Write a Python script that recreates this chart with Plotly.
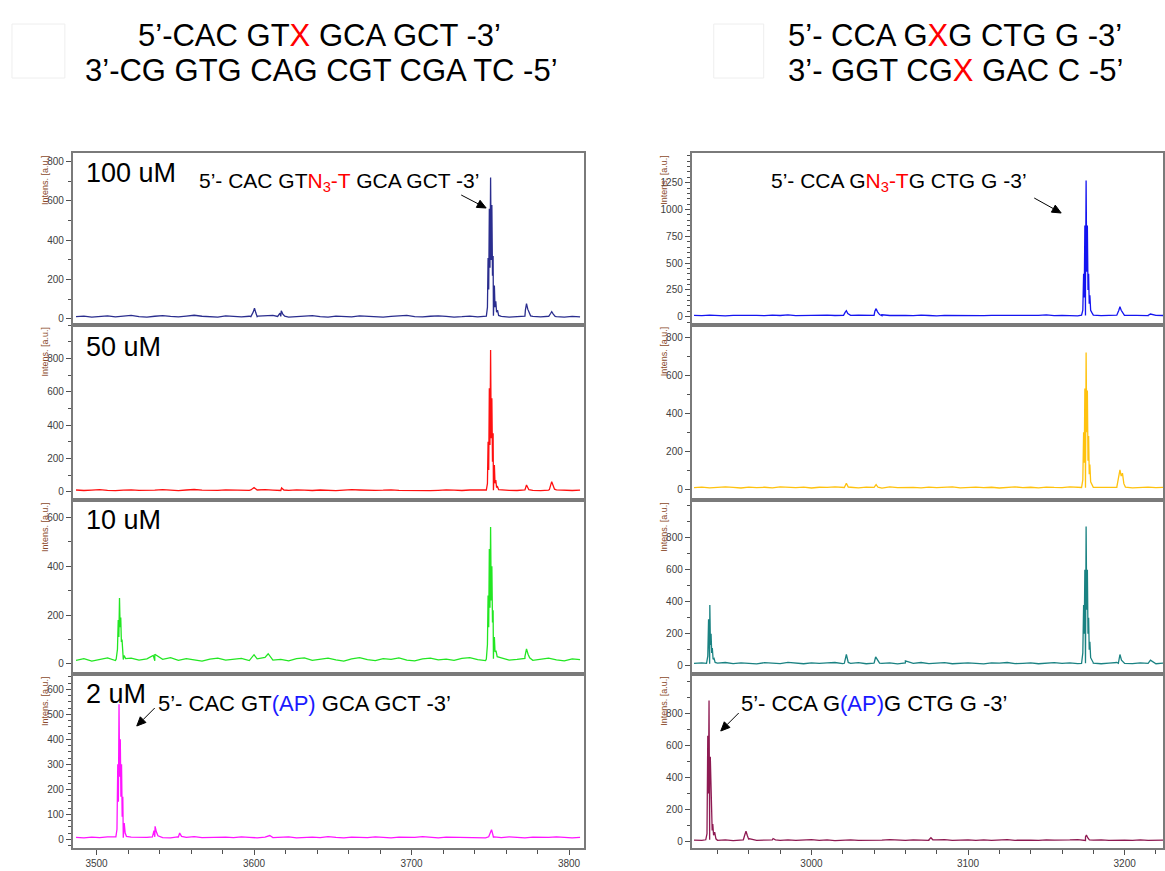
import math
import plotly.graph_objects as go

W, H = 1165, 871

# ---------------- data ----------------
LEFT_MZ = [3487, 3492, 3497, 3502, 3507, 3512, 3517, 3522, 3527, 3532,
           3537, 3542, 3547, 3552, 3557, 3562, 3567, 3572, 3577, 3582,
           3587, 3592, 3597, 3602, 3607, 3612, 3617, 3622, 3627, 3632,
           3637, 3642, 3647, 3652, 3657, 3662, 3667, 3672, 3677, 3682,
           3687, 3692, 3697, 3702, 3707, 3712, 3717, 3722, 3727, 3732,
           3737, 3742, 3747, 3752, 3757, 3762, 3767, 3772, 3777, 3782,
           3787, 3792, 3797, 3802, 3807]
RIGHT_MZ = [2925, 2930, 2935, 2940, 2945, 2950, 2955, 2960, 2965, 2970,
            2975, 2980, 2985, 2990, 2995, 3000, 3005, 3010, 3015, 3020,
            3025, 3030, 3035, 3040, 3045, 3050, 3055, 3060, 3065, 3070,
            3075, 3080, 3085, 3090, 3095, 3100, 3105, 3110, 3115, 3120,
            3125, 3130, 3135, 3140, 3145, 3150, 3155, 3160, 3165, 3170,
            3175, 3180, 3185, 3190, 3195, 3200, 3205, 3210, 3215, 3220,
            3225]

# baselines
L100_BASE = [12, 15, 10, 13, 16, 11, 14, 18, 12, 10,
             14, 17, 13, 11, 15, 19, 14, 12, 10, 16,
             13, 11, 14, 12, 15, 18, 13, 10, 12, 14,
             17, 12, 10, 15, 13, 11, 16, 14, 12, 10,
             13, 15, 18, 12, 11, 14, 16, 13, 10, 12,
             15, 11, 14, 17, 13, 10, 12, 15, 13, 11,
             14, 12, 10, 13, 11]
L50_BASE = [10, 7, 9, 12, 8, 6, 9, 11, 8, 7,
            9, 12, 8, 6, 10, 13, 9, 7, 8, 11,
            9, 6, 8, 10, 12, 9, 7, 8, 11, 9,
            7, 10, 8, 6, 9, 12, 10, 7, 8, 9,
            11, 8, 7, 10, 9, 6, 8, 11, 9, 7,
            10, 8, 6, 9, 12, 8, 7, 10, 8, 6,
            9, 11, 8, 7, 9]
L10_BASE = [15, 22, 12, 20, 25, 14, 18, 24, 16, 21,
            13, 19, 26, 15, 22, 17, 12, 20, 24, 16,
            18, 23, 14, 21, 27, 16, 19, 13, 22, 25,
            15, 20, 24, 17, 12, 21, 26, 18, 14, 22,
            19, 25, 16, 13, 21, 24, 17, 20, 15, 23,
            26, 18, 14, 21, 25, 16, 19, 23, 15, 20,
            24, 17, 13, 21, 18]
L2_BASE = [8, 6, 9, 7, 10, 8, 6, 9, 7, 8,
           10, 7, 6, 9, 8, 11, 7, 8, 6, 9,
           7, 10, 8, 6, 9, 7, 8, 10, 6, 8,
           9, 7, 11, 8, 6, 9, 8, 7, 10, 8,
           6, 9, 7, 8, 11, 7, 6, 9, 8, 10,
           7, 8, 6, 9, 7, 10, 8, 6, 9, 7,
           8, 10, 7, 6, 8]
R100_BASE = [12, 9, 14, 11, 8, 13, 15, 10, 12, 9,
             14, 11, 16, 10, 12, 8, 13, 15, 11, 9,
             12, 14, 10, 13, 9, 11, 15, 12, 10, 14,
             11, 8, 13, 12, 10, 15, 11, 9, 13, 12,
             10, 14, 11, 9, 12, 16, 10, 13, 11, 8,
             12, 15, 10, 13, 11, 9, 12, 14, 10, 12,
             11]
R50_BASE = [9, 12, 8, 11, 13, 10, 7, 12, 9, 11,
            8, 13, 10, 9, 12, 7, 11, 10, 13, 9,
            11, 8, 12, 10, 7, 13, 9, 11, 10, 8,
            12, 9, 11, 13, 8, 10, 12, 9, 11, 7,
            10, 13, 9, 11, 8, 12, 10, 9, 13, 11,
            8, 12, 10, 9, 11, 13, 8, 10, 12, 9,
            11]
R10_BASE = [14, 18, 12, 16, 20, 13, 17, 15, 11, 19,
            16, 13, 21, 15, 12, 18, 14, 17, 20, 13,
            15, 19, 12, 16, 14, 18, 11, 17, 15, 20,
            13, 16, 19, 12, 15, 18, 14, 11, 17, 16,
            20, 13, 15, 18, 12, 16, 19, 14, 17, 13,
            15, 18, 12, 16, 20, 14, 13, 17, 15, 12,
            16]
R2_BASE = [10, 8, 12, 9, 11, 7, 10, 13, 9, 8,
           11, 9, 12, 8, 10, 13, 9, 11, 7, 10,
           12, 9, 8, 11, 10, 13, 9, 8, 12, 10,
           9, 11, 13, 8, 10, 12, 9, 11, 8, 10,
           13, 9, 11, 10, 8, 12, 10, 9, 11, 13,
           8, 10, 12, 9, 11, 10, 8, 12, 9, 11,
           10]

# peaks: (m/z, intensity)
L100_PEAKS = [(3598, 12), (3599.5, 35), (3600.3, 55), (3601.2, 30), (3602.5, 15),
              (3615, 13), (3616.5, 30), (3617.3, 42), (3618.3, 25), (3619.5, 14),
              (3747.5, 14), (3748.2, 60), (3748.6, 310), (3749.0, 150), (3749.4, 560),
              (3749.8, 260), (3750.2, 720), (3750.6, 300), (3751.0, 580), (3751.4, 220),
              (3751.8, 320), (3752.2, 120), (3752.6, 170), (3753.0, 60), (3753.5, 90),
              (3754.0, 35), (3754.6, 45), (3755.3, 18),
              (3771, 15), (3772.3, 45), (3773, 78), (3773.8, 50), (3774.6, 35), (3775.6, 16),
              (3787, 12), (3788.3, 28), (3789, 37), (3790, 25), (3791.2, 13)]
L50_PEAKS = [(3598, 10), (3600, 25), (3602, 10),
             (3616, 10), (3617.5, 22), (3619, 10),
             (3747.5, 10), (3748.2, 50), (3748.6, 300), (3749.0, 130), (3749.4, 620),
             (3749.8, 280), (3750.2, 850), (3750.6, 320), (3751.0, 560), (3751.4, 180),
             (3751.8, 350), (3752.2, 90), (3752.6, 160), (3753.0, 50), (3753.5, 70),
             (3754.0, 25), (3754.6, 30), (3755.3, 12),
             (3771.5, 12), (3773, 40), (3774.5, 12),
             (3787.5, 12), (3789, 60), (3789.8, 40), (3790.8, 15)]
L10_PEAKS = [(3512.5, 20), (3513.3, 60), (3513.8, 180), (3514.2, 110), (3514.6, 270),
             (3515.0, 150), (3515.4, 190), (3515.8, 90), (3516.2, 100), (3516.8, 40),
             (3517.5, 35), (3518.5, 22),
             (3536, 35), (3537, 40), (3600, 38), (3609, 42),
             (3747.5, 20), (3748.2, 80), (3748.6, 280), (3749.0, 150), (3749.4, 470),
             (3749.8, 230), (3750.2, 560), (3750.6, 260), (3751.0, 400), (3751.4, 170),
             (3751.8, 220), (3752.2, 90), (3752.6, 110), (3753.0, 50), (3753.6, 55),
             (3754.4, 30),
             (3772, 30), (3773, 62), (3774, 40), (3775, 25)]
L2_PEAKS = [(3512.3, 10), (3513.0, 40), (3513.5, 300), (3513.9, 150), (3514.3, 540),
            (3514.7, 250), (3515.1, 400), (3515.5, 170), (3515.9, 300), (3516.3, 90),
            (3516.7, 170), (3517.1, 50), (3517.6, 65), (3518.2, 25), (3519, 12),
            (3535.5, 10), (3536.5, 35), (3537.2, 52), (3538, 30), (3539, 14),
            (3551.5, 10), (3552.8, 25), (3554, 12), (3610, 15),
            (3749, 10), (3750.2, 30), (3750.8, 38), (3751.6, 20), (3752.5, 10)]
R100_PEAKS = [(3020.5, 12), (3021.5, 40), (3022.3, 55), (3023.2, 30), (3024.5, 14),
              (3039.5, 13), (3040.5, 50), (3041.3, 75), (3042.2, 45), (3043.5, 20), (3045, 18),
              (3172.5, 14), (3173.3, 60), (3173.8, 400), (3174.2, 180), (3174.6, 850),
              (3175.0, 300), (3175.4, 1270), (3175.8, 420), (3176.2, 850), (3176.6, 250),
              (3177.0, 400), (3177.4, 120), (3177.8, 200), (3178.3, 60), (3179, 40), (3180, 15),
              (3195, 14), (3196.3, 60), (3197, 92), (3197.8, 60), (3198.8, 30), (3200, 15),
              (3215, 12), (3216.5, 25), (3218, 22), (3219.5, 12)]
R50_PEAKS = [(3021, 10), (3022.3, 32), (3023.5, 12),
             (3040, 10), (3041.3, 25), (3042.5, 11),
             (3172.5, 10), (3173.3, 50), (3173.8, 300), (3174.2, 140), (3174.6, 530),
             (3175.0, 220), (3175.4, 720), (3175.8, 300), (3176.2, 520), (3176.6, 150),
             (3177.0, 280), (3177.4, 80), (3177.8, 130), (3178.3, 40), (3179, 25), (3180, 11),
             (3195, 12), (3196.3, 60), (3197, 102), (3197.8, 70), (3198.6, 85),
             (3199.5, 30), (3200.5, 12)]
R10_PEAKS = [(2933, 15), (2933.8, 60), (2934.3, 290), (2934.7, 150), (2935.1, 380),
             (2935.5, 130), (2935.9, 200), (2936.3, 80), (2936.7, 110), (2937.2, 40),
             (2937.8, 45), (2938.5, 20),
             (3021, 15), (3022.3, 70), (3023.5, 20),
             (3040, 15), (3041, 55), (3042, 40), (3043.5, 16), (3060, 30),
             (3172.5, 15), (3173.3, 80), (3173.8, 380), (3174.2, 200), (3174.6, 600),
             (3175.0, 260), (3175.4, 870), (3175.8, 350), (3176.2, 600), (3176.6, 200),
             (3177.0, 300), (3177.4, 100), (3177.8, 150), (3178.3, 50), (3179, 40), (3180, 16),
             (3196, 15), (3197, 70), (3198, 35), (3199.5, 15), (3216.5, 35)]
R2_PEAKS = [(2932.5, 12), (2933.3, 50), (2933.8, 660), (2934.2, 300), (2934.6, 880),
            (2935.0, 400), (2935.4, 530), (2935.8, 330), (2936.2, 200), (2936.6, 70),
            (2937.0, 110), (2937.5, 40), (2938.2, 60), (2939, 18),
            (2956.5, 12), (2957.5, 45), (2958.2, 65), (2959, 40), (2960, 20),
            (2974, 10), (2975.5, 20), (2977, 12),
            (3075, 12), (3076.3, 25), (3077.5, 12),
            (3174, 12), (3175, 30), (3175.6, 42), (3176.4, 25), (3177.5, 12)]

CONC_LABELS = ["100 uM", "50 uM", "10 uM", "2 uM"]
LEFT_XTICKS = [3500, 3600, 3700, 3800]
RIGHT_XTICKS = [3000, 3100, 3200]

# ---------------- layout geometry ----------------
def px_x(p):
    return p / W

def px_y(p):
    return 1 - p / H

LEFT_DOM = [px_x(73), px_x(585)]
RIGHT_DOM = [px_x(693), 1.0]
BOUNDS = [153, 324.5, 500, 674, 848.3]
Y_DOMS = [[px_y(BOUNDS[i + 1]), px_y(BOUNDS[i])] for i in range(4)]

LEFT_XRANGE = [3485, 3809.5]
RIGHT_XRANGE = [2923.6, 3224.5]
LEFT_YR = [[-28, 844], [-50, 1003], [-41, 671], [-36, 661]]
RIGHT_YR = [[-73, 1527], [-56, 867], [-52, 1036], [-41, 1045]]
LEFT_YT = [[0, 200, 400, 600, 800], [0, 200, 400, 600, 800], [0, 200, 400, 600],
           [0, 100, 200, 300, 400, 500, 600]]
LEFT_YMINOR = [100, 100, 100, 25]
RIGHT_YT = [[0, 250, 500, 750, 1000, 1250], [0, 200, 400, 600, 800],
            [0, 200, 400, 600, 800], [0, 200, 400, 600, 800]]
RIGHT_YMINOR = [50, 100, 100, 100]

LEFT_COLORS = ["#2a2d8e", "#ff1010", "#22e622", "#ff14ff"]
RIGHT_COLORS = ["#1414f0", "#ffc20e", "#1a8282", "#8e1a52"]

LEFT_SERIES = [(L100_BASE, L100_PEAKS), (L50_BASE, L50_PEAKS),
               (L10_BASE, L10_PEAKS), (L2_BASE, L2_PEAKS)]
RIGHT_SERIES = [(R100_BASE, R100_PEAKS), (R50_BASE, R50_PEAKS),
                (R10_BASE, R10_PEAKS), (R2_BASE, R2_PEAKS)]


def merged(mz, base, peaks):
    pts = list(zip(mz, base)) + list(peaks)
    pts.sort(key=lambda t: t[0])
    return [p[0] for p in pts], [p[1] for p in pts]


fig = go.Figure()
layout = dict(width=W, height=H, margin=dict(l=0, r=0, t=0, b=0),
              paper_bgcolor="white", plot_bgcolor="white", showlegend=False)

TICKFONT = dict(family="Liberation Sans Narrow, Arial Narrow, Liberation Sans, sans-serif",
                size=10, color="#404040")

idx = 0
for side in range(2):
    mz = LEFT_MZ if side == 0 else RIGHT_MZ
    series = LEFT_SERIES if side == 0 else RIGHT_SERIES
    colors = LEFT_COLORS if side == 0 else RIGHT_COLORS
    xdom = LEFT_DOM if side == 0 else RIGHT_DOM
    xr = LEFT_XRANGE if side == 0 else RIGHT_XRANGE
    yrs = LEFT_YR if side == 0 else RIGHT_YR
    yts = LEFT_YT if side == 0 else RIGHT_YT
    ymin = LEFT_YMINOR if side == 0 else RIGHT_YMINOR
    xticks = LEFT_XTICKS if side == 0 else RIGHT_XTICKS
    for p in range(4):
        idx += 1
        sfx = "" if idx == 1 else str(idx)
        base, peaks = series[p]
        xs, ys = merged(mz, base, peaks)
        fig.add_trace(go.Scatter(x=xs, y=ys, mode="lines",
                                 line=dict(color=colors[p], width=1.3),
                                 xaxis="x" + sfx, yaxis="y" + sfx,
                                 hoverinfo="skip"))
        bottom = (p == 3)
        layout["xaxis" + sfx] = dict(
            domain=xdom, anchor="y" + sfx, range=xr,
            showline=True, mirror=True, linecolor="#7a7a7a", linewidth=2,
            showgrid=False, zeroline=False,
            tickvals=xticks if bottom else [],
            ticks="outside" if bottom else "", ticklen=5, tickcolor="#505050",
            showticklabels=bottom, tickfont=TICKFONT,
            minor=dict(dtick=20, ticks="outside", ticklen=4, tickcolor="#505050") if bottom else dict(ticks=""),
        )
        layout["yaxis" + sfx] = dict(
            domain=Y_DOMS[p], anchor="x" + sfx, range=yrs[p],
            showline=True, mirror=True, linecolor="#7a7a7a", linewidth=2,
            showgrid=False, zeroline=False,
            tickvals=yts[p], ticks="outside", ticklen=5, tickcolor="#505050",
            tickfont=TICKFONT,
            minor=dict(dtick=ymin[p], ticks="outside", ticklen=3, tickcolor="#505050"),
        )

fig.update_layout(**layout)

MAIN = "Liberation Sans, Arial, sans-serif"
RED = "#ff0000"
BLUE = "#1a1aff"
ann = []


def text_ann(t, xp, yp, size, xanchor="center"):
    ann.append(dict(text=t, x=px_x(xp), y=px_y(yp), xref="paper", yref="paper",
                    showarrow=False, xanchor=xanchor, yanchor="middle",
                    font=dict(family=MAIN, size=size, color="black")))


# Titles
text_ann(f"5’-CAC GT<span style='color:{RED}'>X</span> GCA GCT -3’", 320, 35, 31)
text_ann("3’-CG GTG CAG CGT CGA TC -5’", 322, 70, 31)
text_ann(f"5’- CCA G<span style='color:{RED}'>X</span>G CTG G -3’", 957, 35, 31)
text_ann(f"3’- GGT CG<span style='color:{RED}'>X</span> GAC C -5’", 957, 70, 31)

# concentration labels
for lab, yp in zip(CONC_LABELS, [173, 347, 520, 694]):
    text_ann(lab, 84, yp, 27, xanchor="left")

# sequence annotations
text_ann(f"5’- CAC GT<span style='color:{RED}'>N<sub>3</sub>-T</span> GCA GCT -3’", 340, 182, 21)
text_ann(f"5’- CCA G<span style='color:{RED}'>N<sub>3</sub>-T</span>G CTG G -3’", 901, 182, 21)
text_ann(f"5’- CAC GT<span style='color:{BLUE}'>(AP)</span> GCA GCT -3’", 305, 703, 22)
text_ann(f"5’- CCA G<span style='color:{BLUE}'>(AP)</span>G CTG G -3’", 876, 703, 22)

# y-axis titles
for xp in [45, 665]:
    for top in BOUNDS[:4]:
        ann.append(dict(text="Intens. [a.u.]", x=px_x(xp), y=px_y(top + 27),
                        xref="paper", yref="paper", showarrow=False, textangle=-90,
                        xanchor="center", yanchor="middle",
                        font=dict(family=TICKFONT["family"], size=9, color="#8b4a2b")))

fig.update_layout(annotations=ann)

# arrows drawn as shapes: (head, tail) in pixels
ARROWS = [((487, 208), (462, 195)), ((1063, 213), (1036, 198)),
          ((137, 726), (155, 708)), ((722, 731), (740, 713))]
for (hx, hy), (tx, ty) in ARROWS:
    dx, dy = hx - tx, hy - ty
    ln = math.hypot(dx, dy)
    ux, uy = dx / ln, dy / ln
    nx, ny = -uy, ux
    hl, hw = 9, 4
    bx, by = hx - ux * hl, hy - uy * hl
    fig.add_shape(type="line", xref="paper", yref="paper",
                  x0=px_x(tx), y0=px_y(ty), x1=px_x(bx), y1=px_y(by),
                  line=dict(color="black", width=1))
    path = (f"M {px_x(hx)} {px_y(hy)} "
            f"L {px_x(bx + nx * hw)} {px_y(by + ny * hw)} "
            f"L {px_x(bx - nx * hw)} {px_y(by - ny * hw)} Z")
    fig.add_shape(type="path", xref="paper", yref="paper", path=path,
                  fillcolor="black", line=dict(color="black", width=1))

# faint boxes near titles
for x0, x1 in [(12, 65), (715, 765)]:
    fig.add_shape(type="rect", xref="paper", yref="paper",
                  x0=px_x(x0), x1=px_x(x1), y0=px_y(78), y1=px_y(24),
                  line=dict(color="#eeeeee", width=1))

fig.write_html("out.html")
